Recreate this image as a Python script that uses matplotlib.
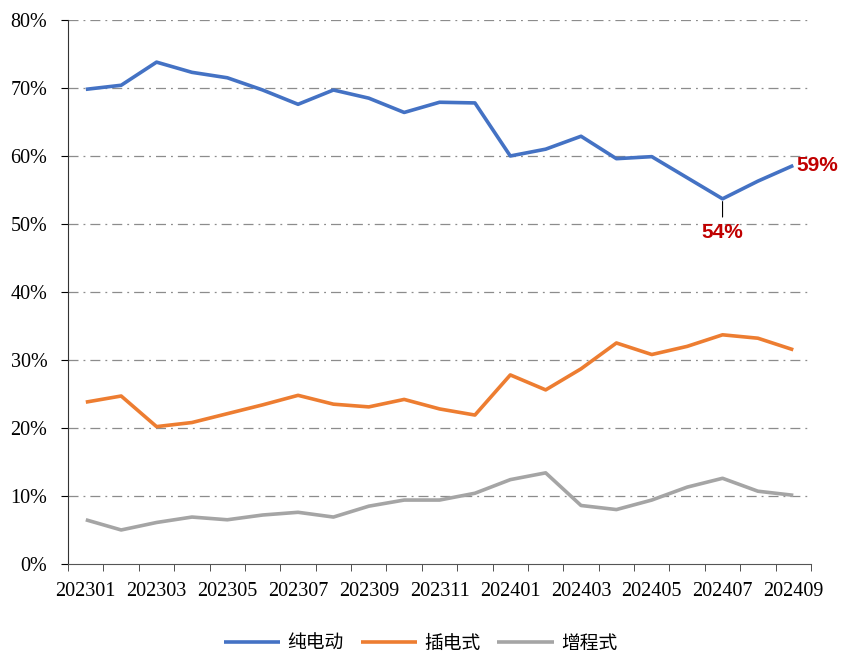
import matplotlib.pyplot as plt
import numpy as np

# 月份
months = ["202301", "202302", "202303", "202304", "202305", "202306", "202307",
          "202308", "202309", "202310", "202311", "202312", "202401", "202402",
          "202403", "202404", "202405", "202406", "202407", "202408", "202409"]

# 渗透占比 (%)
bev = [69.8, 70.4, 73.8, 72.3, 71.5, 69.7, 67.6, 69.7, 68.5, 66.4, 67.9, 67.8,
       60.0, 61.0, 62.9, 59.6, 59.9, 56.8, 53.7, 56.3, 58.6]
phev = [23.8, 24.7, 20.2, 20.8, 22.1, 23.4, 24.8, 23.5, 23.1, 24.2, 22.8, 21.9,
        27.8, 25.6, 28.7, 32.5, 30.8, 32.0, 33.7, 33.2, 31.5]
erev = [6.5, 5.0, 6.1, 6.9, 6.5, 7.2, 7.6, 6.9, 8.5, 9.4, 9.4, 10.4,
        12.4, 13.4, 8.6, 8.0, 9.4, 11.3, 12.6, 10.7, 10.1]

names = ["纯电动", "插电式", "增程式"]
colors = ["#4472C4", "#ED7D31", "#A5A5A5"]

plt.rcParams["font.family"] = ["Liberation Serif", "Noto Sans CJK SC"]

fig = plt.figure(figsize=(8.41, 6.57), dpi=100)
ax = fig.add_axes([0.081, 0.1416, 0.8833, 0.828])

x = np.arange(len(months))
for vals, name, c in zip([bev, phev, erev], names, colors):
    ax.plot(x, vals, color=c, lw=2.6, label=name, solid_capstyle="butt")

ax.set_xlim(-0.5, len(months) - 0.5)
ax.set_ylim(0, 80)
ax.set_yticks(np.arange(0, 81, 10))
ax.set_yticklabels(["%d%%" % v for v in range(0, 81, 10)])
ax.set_xticks(x[::2])
ax.set_xticklabels(months[::2])
ax.set_xticks(np.arange(-0.5, len(months), 1), minor=True)
ax.tick_params(axis="x", which="major", length=0, labelsize=14.5, pad=13)
ax.tick_params(axis="x", which="minor", length=5, direction="out", color="#333333")
ax.tick_params(axis="y", length=5, direction="out", labelsize=14.5, pad=10)

for v in range(10, 81, 10):
    ax.axhline(v, color="#8C8C8C", lw=0.9, ls=(0, (8, 4, 1.5, 4)), zorder=0)

for s in ["top", "right"]:
    ax.spines[s].set_visible(False)
ax.spines["left"].set_color("#333333")
ax.spines["bottom"].set_color("#555555")

# 标注
lab = dict(color="#C00000", fontsize=15, fontweight="bold", family="Liberation Sans")
ax.text(x[-1] + 0.08, bev[-1], "%d%%" % round(bev[-1]), ha="left", va="center", **lab)
i = months.index("202407")
ax.annotate("%d%%" % round(bev[i]), xy=(x[i], bev[i]), xytext=(x[i], bev[i] - 3.5),
            ha="center", va="top", arrowprops=dict(arrowstyle="-", color="black", lw=0.8),
            **lab)

leg = fig.legend(loc="center", bbox_to_anchor=(0.5, 0.021), ncol=3, frameon=False,
                 handlelength=3.0, columnspacing=0.9, handletextpad=0.4, borderpad=0,
                 prop={"family": ["Noto Sans CJK SC"], "size": 13.5})

fig.savefig("out.png", dpi=100)
